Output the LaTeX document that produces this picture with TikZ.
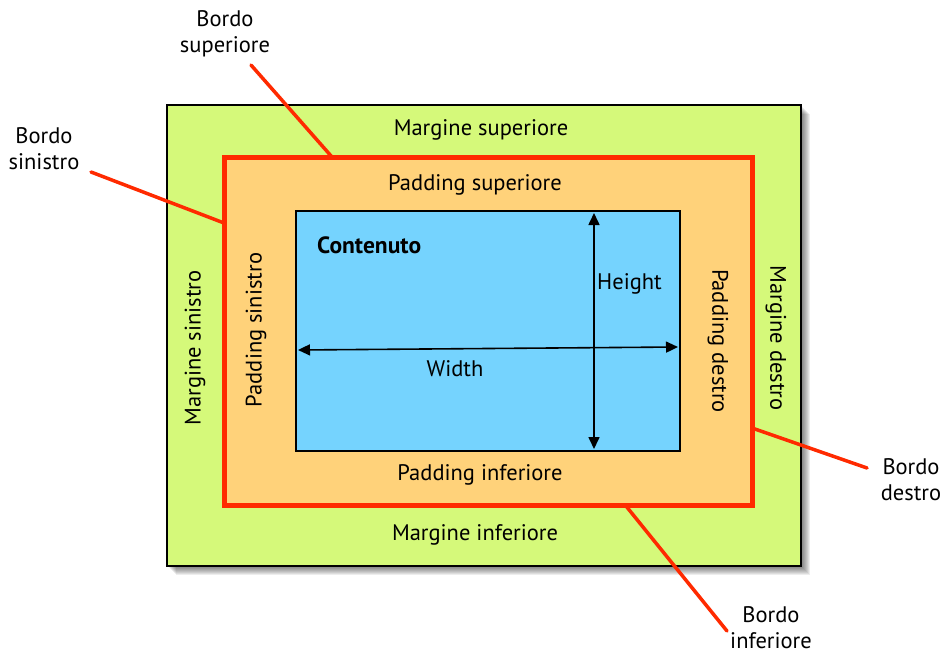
\documentclass[tikz,border=0pt]{standalone}
\usepackage{fontspec}
\setmainfont{PT Sans}
\usetikzlibrary{arrows.meta}
\definecolor{margincol}{HTML}{D5F97A}
\definecolor{paddingcol}{HTML}{FFD27A}
\definecolor{contentcol}{HTML}{75D3FE}
\definecolor{bordercol}{HTML}{FF2A00}
\begin{document}
\begin{tikzpicture}[x=1pt,y=-1pt,
  font=\fontsize{22.5}{26}\selectfont,
  boxrect/.style={rectangle, inner sep=0pt, outer sep=0pt},
  lbl/.style={align=center, inner sep=0pt},
  callout/.style={draw=bordercol, line width=3.5pt, line cap=round},
  dimarrow/.style={draw=black, line width=1.6pt, {Triangle[length=12pt,width=11pt]}-{Triangle[length=12pt,width=11pt]}}]
\useasboundingbox (0,0) rectangle (943,654);
% shadow
\foreach \k in {2,3,...,9}{
  \fill[black, opacity=0.07] (167+\k,105+\k) rectangle (801+\k,566+\k);
}
\node[boxrect, fill=margincol, draw=black, line width=1.3pt, minimum width=634pt, minimum height=461pt] (margin) at (484,335.5) {};
\node[boxrect, fill=paddingcol, draw=bordercol, line width=5pt, minimum width=528pt, minimum height=348pt] (border) at (488,331) {};
\node[boxrect, fill=contentcol, draw=black, line width=1.3pt, minimum width=384pt, minimum height=240pt] (content) at (488,331) {};

% dimension arrows
\coordinate (wl) at (298,350);
\coordinate (wr) at (678,347);
\coordinate (ht) at (594,213);
\coordinate (hb) at (594,449);
\draw[dimarrow] (wl) -- (wr);
\draw[dimarrow] (ht) -- (hb);

% inner texts
\node[lbl] (msup) at (481,130) {Margine superiore};
\node[lbl] (psup) at (475,185) {Padding superiore};
\node[lbl, anchor=west, font=\fontsize{23.5}{26}\selectfont\bfseries] (cont) at (317,245) {Contenuto};
\node[lbl, anchor=west] (height) at (597,284) {Height};
\node[lbl] (width) at (455,369) {Width};
\node[lbl] (pinf) at (480,475) {Padding inferiore};
\node[lbl] (minf) at (475,535) {Margine inferiore};
\node[lbl, rotate=90] (msin) at (195,348) {Margine sinistro};
\node[lbl, rotate=90] (psin) at (256,330) {Padding sinistro};
\node[lbl, rotate=-90] (pdes) at (718,341) {Padding destro};
\node[lbl, rotate=-90] (mdes) at (776,338) {Margine destro};

% outer labels
\node[lbl] (bsup) at (225,34) {Bordo\\superiore};
\node[lbl] (bsin) at (44,149) {Bordo\\sinistro};
\node[lbl] (bdes) at (911,480) {Bordo\\destro};
\node[lbl] (binf) at (771,628) {Bordo\\inferiore};

\coordinate (csup0) at (251,65);
\coordinate (csup1) at (332,157);
\coordinate (csin0) at (91,172);
\coordinate (csin1) at (224,223);
\coordinate (cdes0) at (867,468);
\coordinate (cdes1) at (752,428);
\coordinate (cinf0) at (727,631);
\coordinate (cinf1) at (626,506);
\draw[callout] (csup0) -- (csup1);
\draw[callout] (csin0) -- (csin1);
\draw[callout] (cdes0) -- (cdes1);
\draw[callout] (cinf0) -- (cinf1);
\end{tikzpicture}
\end{document}
